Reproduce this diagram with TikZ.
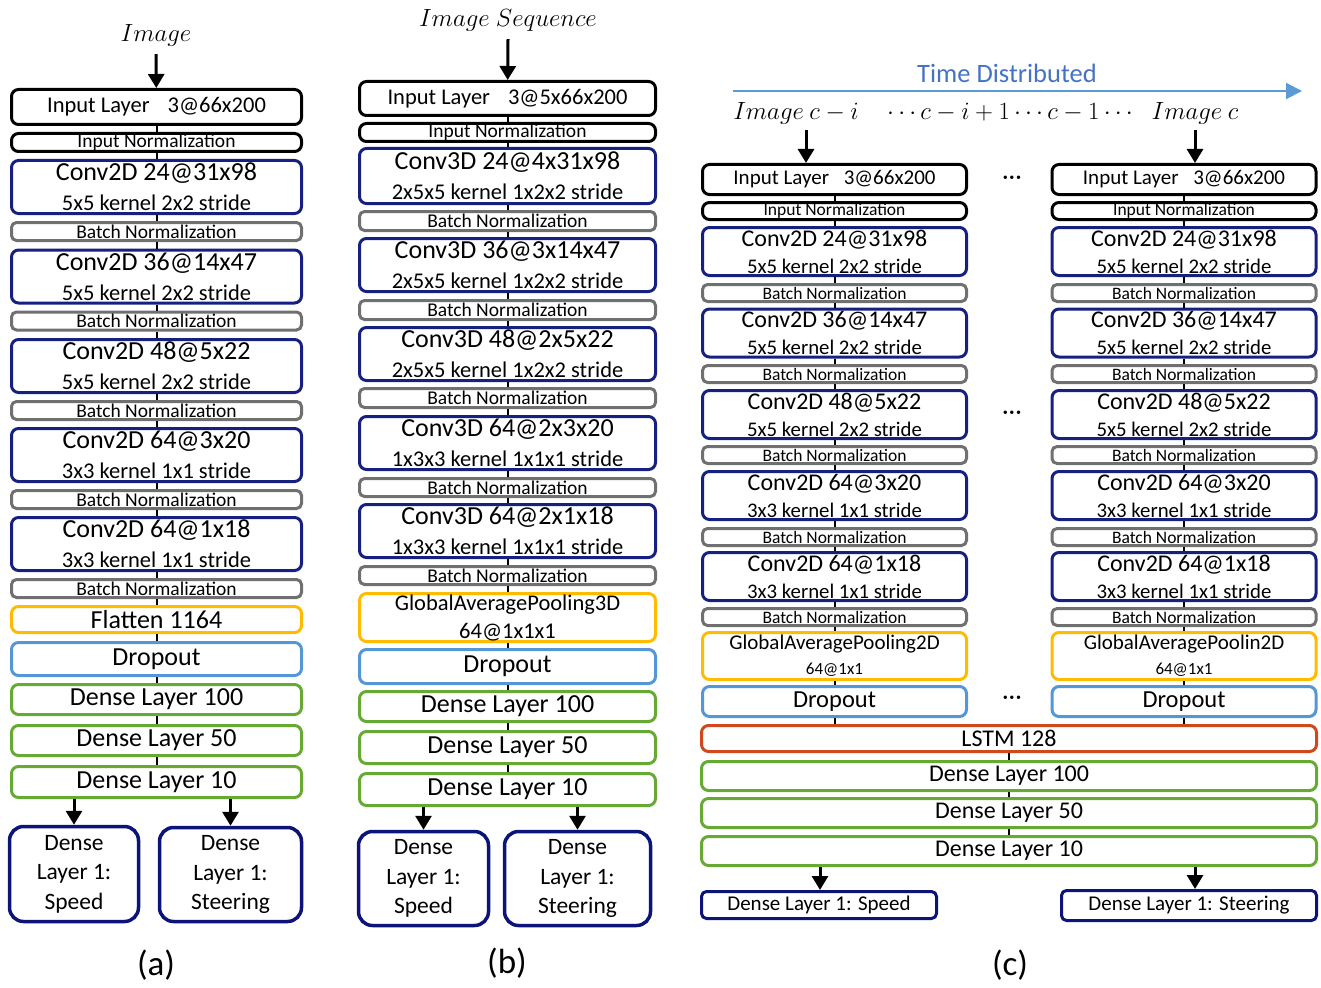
\documentclass[tikz,border=0pt]{standalone}
\usepackage{fontspec}
\setmainfont{Carlito}
\usetikzlibrary{arrows.meta}

\definecolor{convblue}{RGB}{22,32,128}
\definecolor{outblue}{RGB}{12,20,120}
\definecolor{bngray}{RGB}{112,112,112}
\definecolor{poolorange}{RGB}{255,187,0}
\definecolor{dropblue}{RGB}{84,150,214}
\definecolor{densegreen}{RGB}{102,170,52}
\definecolor{lstmred}{RGB}{208,72,30}
\definecolor{tdtext}{RGB}{68,114,196}
\definecolor{tdline}{RGB}{91,155,213}

\newcommand\szconv{\fontsize{26}{30}\selectfont}
\newcommand\szsub{\fontsize{22.5}{30}\selectfont}
\newcommand\szbn{\fontsize{19.5}{22}\selectfont}
\newcommand\szdense{\fontsize{26}{28}\selectfont}
\newcommand\szlab{\fontsize{28}{32}\selectfont}
\newcommand\szcap{\fontsize{35}{40}\selectfont}
\newcommand\middots{·\kern0.5pt·\kern0.5pt·}

\begin{document}
\begin{tikzpicture}[x=1pt,y=-1pt,
    box/.style={draw, fill=white, rounded corners=7pt, line width=3pt, align=center, inner sep=0pt},
    inbox/.style={box, draw=black},
    convbox/.style={box, draw=convblue},
    bnbox/.style={box, draw=bngray, rounded corners=5pt},
    poolbox/.style={box, draw=poolorange},
    dropbox/.style={box, draw=dropblue},
    densebox/.style={box, draw=densegreen},
    lstmbox/.style={box, draw=lstmred},
    outbox/.style={box, draw=outblue, rounded corners=14pt, line width=3.5pt},
    wa/.style={minimum width=290pt},
    wb/.style={minimum width=296pt},
    wc/.style={minimum width=264pt},
    tick/.style={line width=2pt},
    arr/.style={line width=3pt, -{Triangle[length=14pt,width=16pt]}},
    lab/.style={font=\szlab, inner sep=0pt}]

\useasboundingbox (0,0) rectangle (1321,987);

%% (a) single image
\node[lab] (imga) at (156,35) {$Image$};
\node[inbox, wa, minimum height=35pt, font=\szsub] (a1) at (156.5,107) {Input Layer\hspace{0.8em}3@66x200};
\node[inbox, wa, minimum height=18pt, font=\szbn] (a2) at (156.5,142.5) {Input Normalization};
\node[convbox, wa, minimum height=53pt, font=\szsub] (a3) at (156.5,187) {{\szconv Conv2D 24@31x98}\\5x5 kernel 2x2 stride};
\node[bnbox, wa, minimum height=18pt, font=\szbn] (a4) at (156.5,231.5) {Batch Normalization};
\node[convbox, wa, minimum height=53pt, font=\szsub] (a5) at (156.5,276.5) {{\szconv Conv2D 36@14x47}\\5x5 kernel 2x2 stride};
\node[bnbox, wa, minimum height=18pt, font=\szbn] (a6) at (156.5,321) {Batch Normalization};
\node[convbox, wa, minimum height=53pt, font=\szsub] (a7) at (156.5,366) {{\szconv Conv2D 48@5x22}\\5x5 kernel 2x2 stride};
\node[bnbox, wa, minimum height=18pt, font=\szbn] (a8) at (156.5,410.5) {Batch Normalization};
\node[convbox, wa, minimum height=53pt, font=\szsub] (a9) at (156.5,455) {{\szconv Conv2D 64@3x20}\\3x3 kernel 1x1 stride};
\node[bnbox, wa, minimum height=18pt, font=\szbn] (a10) at (156.5,499.5) {Batch Normalization};
\node[convbox, wa, minimum height=53pt, font=\szsub] (a11) at (156.5,544) {{\szconv Conv2D 64@1x18}\\3x3 kernel 1x1 stride};
\node[bnbox, wa, minimum height=18pt, font=\szbn] (a12) at (156.5,588.5) {Batch Normalization};
\node[poolbox, wa, minimum height=26pt, font=\szdense] (a13) at (156.5,619.5) {Flatten 1164};
\node[dropbox, wa, minimum height=33pt, font=\szdense] (a14) at (156.5,659) {Dropout};
\node[densebox, wa, minimum height=30pt, font=\szdense] (a15) at (156.5,699.5) {Dense Layer 100};
\node[densebox, wa, minimum height=30pt, font=\szdense] (a16) at (156.5,740.5) {Dense Layer 50};
\node[densebox, wa, minimum height=31pt, font=\szdense] (a17) at (156.5,782) {Dense Layer 10};
\node[outbox, minimum width=129pt, minimum height=95pt, font=\fontsize{23.5}{29.5}\selectfont] (aspeed) at (74,874) {Dense\\Layer 1:\\Speed};
\node[outbox, minimum width=142pt, minimum height=94pt, font=\fontsize{23.5}{29.5}\selectfont] (asteer) at (230.5,874.5) {Dense\\Layer 1:\\Steering};
\node[font=\szcap] (capa) at (156,965) {(a)};

\draw[arr] ([yshift=-8pt]imga.south) -- (a1);
\foreach \i [count=\j from 2] in {1,...,16}
  \draw[tick] (a\i.south) -- (a\j.north);
\draw[arr] (a17.south -| aspeed) -- (aspeed.north);
\draw[arr] (a17.south -| asteer) -- (asteer.north);

%% (b) image sequence
\node[lab] (imgb) at (508,20) {$Image\ Sequence$};
\node[inbox, wb, minimum height=34pt, font=\szsub] (b1) at (507.5,98.5) {Input Layer\hspace{0.8em}3@5x66x200};
\node[inbox, wb, minimum height=18pt, font=\szbn] (b2) at (507.5,132.5) {Input Normalization};
\node[convbox, wb, minimum height=55pt, font=\szsub] (b3) at (507.5,176) {{\szconv Conv3D 24@4x31x98}\\2x5x5 kernel 1x2x2 stride};
\node[bnbox, wb, minimum height=19pt, font=\szbn] (b4) at (507.5,221) {Batch Normalization};
\node[convbox, wb, minimum height=53pt, font=\szsub] (b5) at (507.5,265) {{\szconv Conv3D 36@3x14x47}\\2x5x5 kernel 1x2x2 stride};
\node[bnbox, wb, minimum height=19pt, font=\szbn] (b6) at (507.5,310) {Batch Normalization};
\node[convbox, wb, minimum height=53pt, font=\szsub] (b7) at (507.5,354) {{\szconv Conv3D 48@2x5x22}\\2x5x5 kernel 1x2x2 stride};
\node[bnbox, wb, minimum height=19pt, font=\szbn] (b8) at (507.5,398) {Batch Normalization};
\node[convbox, wb, minimum height=53pt, font=\szsub] (b9) at (507.5,443) {{\szconv Conv3D 64@2x3x20}\\1x3x3 kernel 1x1x1 stride};
\node[bnbox, wb, minimum height=18pt, font=\szbn] (b10) at (507.5,487.5) {Batch Normalization};
\node[convbox, wb, minimum height=53pt, font=\szsub] (b11) at (507.5,531) {{\szconv Conv3D 64@2x1x18}\\1x3x3 kernel 1x1x1 stride};
\node[bnbox, wb, minimum height=18pt, font=\szbn] (b12) at (507.5,575.5) {Batch Normalization};
\node[poolbox, wb, minimum height=48pt, font=\fontsize{22.5}{28}\selectfont] (b13) at (507.5,617.5) {GlobalAveragePooling3D\\64@1x1x1};
\node[dropbox, wb, minimum height=34pt, font=\szdense] (b14) at (507.5,666.5) {Dropout};
\node[densebox, wb, minimum height=30pt, font=\szdense] (b15) at (507.5,706.5) {Dense Layer 100};
\node[densebox, wb, minimum height=32pt, font=\szdense] (b16) at (507.5,747.5) {Dense Layer 50};
\node[densebox, wb, minimum height=32pt, font=\szdense] (b17) at (507.5,789.5) {Dense Layer 10};
\node[outbox, minimum width=130pt, minimum height=94pt, font=\fontsize{23.5}{29.5}\selectfont] (bspeed) at (423.5,878.5) {Dense\\Layer 1:\\Speed};
\node[outbox, minimum width=146pt, minimum height=94pt, font=\fontsize{23.5}{29.5}\selectfont] (bsteer) at (577.5,878.5) {Dense\\Layer 1:\\Steering};
\node[font=\szcap] (capb) at (507,963) {(b)};

\draw[arr] ([yshift=-8pt]imgb.south) -- (b1);
\foreach \i [count=\j from 2] in {1,...,16}
  \draw[tick] (b\i.south) -- (b\j.north);
\draw[arr] (b17.south -| bspeed) -- (bspeed.north);
\draw[arr] (b17.south -| bsteer) -- (bsteer.north);

%% (c) time distributed
\node[font=\fontsize{26.5}{30}\selectfont, text=tdtext] (td) at (1007,73) {Time Distributed};
\coordinate (tds) at (733,91);
\coordinate (tde) at (1302,91);
\draw[line width=2pt, draw=tdline, -{Triangle[length=16pt,width=16pt]}] (tds) -- (tde);
\node[lab, font=\fontsize{25}{28}\selectfont] (imgl) at (796,113) {$Image\ c-i$};
\node[lab, font=\fontsize{23}{28}\selectfont] (seq) at (1010,112) {$\cdots c-i+1\cdots c-1\cdots$};
\node[lab, font=\fontsize{25}{28}\selectfont] (imgr) at (1195,113) {$Image\ c$};

\foreach \c/\x/\gap in {l/834.5/GlobalAveragePooling2D, r/1184/GlobalAveragePoolin2D}{
  \node[inbox, wc, minimum height=30pt, font=\fontsize{21}{24}\selectfont] (c\c1) at (\x,179.5) {Input Layer\hspace{0.7em}3@66x200};
  \node[inbox, wc, minimum height=17pt, font=\fontsize{17.5}{20}\selectfont] (c\c2) at (\x,211) {Input Normalization};
  \node[convbox, wc, minimum height=48pt, font=\fontsize{20.8}{27}\selectfont] (c\c3) at (\x,251.5) {{\fontsize{24}{27}\selectfont Conv2D 24@31x98}\\5x5 kernel 2x2 stride};
  \node[bnbox, wc, minimum height=17pt, font=\fontsize{17.5}{20}\selectfont] (c\c4) at (\x,293) {Batch Normalization};
  \node[convbox, wc, minimum height=48pt, font=\fontsize{20.8}{27}\selectfont] (c\c5) at (\x,333) {{\fontsize{24}{27}\selectfont Conv2D 36@14x47}\\5x5 kernel 2x2 stride};
  \node[bnbox, wc, minimum height=17pt, font=\fontsize{17.5}{20}\selectfont] (c\c6) at (\x,374) {Batch Normalization};
  \node[convbox, wc, minimum height=48pt, font=\fontsize{20.8}{27}\selectfont] (c\c7) at (\x,414.5) {{\fontsize{24}{27}\selectfont Conv2D 48@5x22}\\5x5 kernel 2x2 stride};
  \node[bnbox, wc, minimum height=17pt, font=\fontsize{17.5}{20}\selectfont] (c\c8) at (\x,455) {Batch Normalization};
  \node[convbox, wc, minimum height=48pt, font=\fontsize{20.8}{27}\selectfont] (c\c9) at (\x,495.5) {{\fontsize{24}{27}\selectfont Conv2D 64@3x20}\\3x3 kernel 1x1 stride};
  \node[bnbox, wc, minimum height=17pt, font=\fontsize{17.5}{20}\selectfont] (c\c10) at (\x,537) {Batch Normalization};
  \node[convbox, wc, minimum height=48pt, font=\fontsize{20.8}{27}\selectfont] (c\c11) at (\x,576.5) {{\fontsize{24}{27}\selectfont Conv2D 64@1x18}\\3x3 kernel 1x1 stride};
  \node[bnbox, wc, minimum height=17pt, font=\fontsize{17.5}{20}\selectfont] (c\c12) at (\x,617) {Batch Normalization};
  \node[poolbox, wc, minimum height=47pt, font=\fontsize{17}{25}\selectfont] (c\c13) at (\x,656) {{\fontsize{21}{25}\selectfont \gap}\\64@1x1};
  \node[dropbox, wc, minimum height=30pt, font=\fontsize{24.5}{28}\selectfont] (c\c14) at (\x,701.5) {Dropout};
  \foreach \i [count=\j from 2] in {1,...,13}
    \draw[tick] (c\c\i.south) -- (c\c\j.north);
}
\node[font=\fontsize{24}{28}\selectfont] (dots1) at (1012,180) {\middots};
\node[font=\fontsize{24}{28}\selectfont] (dots2) at (1012,415) {\middots};
\node[font=\fontsize{24}{28}\selectfont] (dots3) at (1012,700) {\middots};

\node[lstmbox, minimum width=615pt, minimum height=26pt, font=\fontsize{24}{27}\selectfont] (c15) at (1009,738.5) {LSTM 128};
\node[densebox, minimum width=615pt, minimum height=29pt, font=\fontsize{24}{27}\selectfont] (c16) at (1009,776) {Dense Layer 100};
\node[densebox, minimum width=615pt, minimum height=29pt, font=\fontsize{24}{27}\selectfont] (c17) at (1009,813) {Dense Layer 50};
\node[densebox, minimum width=615pt, minimum height=29pt, font=\fontsize{24}{27}\selectfont] (c18) at (1009,851) {Dense Layer 10};
\node[outbox, rounded corners=5pt, line width=3pt, minimum width=235pt, minimum height=27pt, font=\fontsize{21}{24}\selectfont] (cspeed) at (819,905) {Dense Layer 1: Speed};
\node[outbox, rounded corners=5pt, line width=3pt, minimum width=255pt, minimum height=30pt, font=\fontsize{21}{24}\selectfont] (csteer) at (1189,905.5) {Dense Layer 1: Steering};
\node[font=\szcap] (capc) at (1010,965) {(c)};

\coordinate (il) at (806,130);
\coordinate (ir) at (1195,130);
\draw[arr] (il) -- (il |- cl1.north);
\draw[arr] (ir) -- (ir |- cr1.north);
\draw[tick] (cl14.south) -- (cl14.south |- c15.north);
\draw[tick] (cr14.south) -- (cr14.south |- c15.north);
\foreach \i [count=\j from 16] in {15,16,17}
  \draw[tick] (c\i.south) -- (c\j.north);
\coordinate (ol) at (820,0);
\coordinate (or) at (1195,0);
\draw[arr] (c18.south -| ol) -- (ol |- cspeed.north);
\draw[arr] (c18.south -| or) -- (or |- csteer.north);

\end{tikzpicture}
\end{document}
